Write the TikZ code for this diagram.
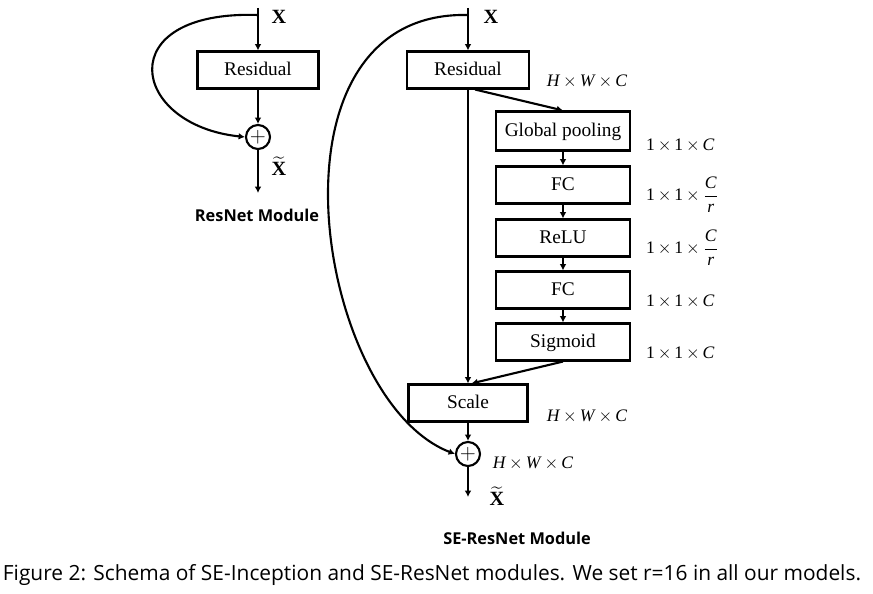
\documentclass[tikz,border=0pt]{standalone}
\usepackage{amsmath}
\usepackage{amssymb}
\usepackage{fontspec}
\setmainfont{Liberation Serif}
\newfontfamily\capfont{Open Sans}
\usetikzlibrary{arrows.meta}

\tikzset{
	layer/.style={draw, line width=1.2pt, minimum height=0.74cm, inner sep=0pt,
		text height=1.48ex, text depth=0pt, font=\fontsize{11}{13}\selectfont},
	addop/.style={circle, draw, line width=1.2pt, minimum size=0.48cm, inner sep=0pt,
		font=\fontsize{13}{13}\selectfont},
	dimlbl/.style={inner sep=1pt, font=\fontsize{10}{12}\selectfont},
	flow/.style={line width=1.2pt, -{Latex[length=3.6pt,width=3.8pt]}},
	modname/.style={inner sep=1pt, font=\capfont\bfseries\fontsize{9.3}{11}\selectfont},
	xlbl/.style={inner sep=0pt, font=\fontsize{11.5}{13}\selectfont},
}
\newcommand{\hwc}{\textit{H}$\,\times\,$\textit{W}$\,\times\,$\textit{C}}
\newcommand{\onec}{1$\,\times\,$1$\,\times\,$\textit{C}}
\newcommand{\onecr}{1$\,\times\,$1$\,\times\,\dfrac{\textit{C}}{\textit{r}}$}

\begin{document}
\begin{tikzpicture}[x=0.02cm, y=-0.02cm]
	\useasboundingbox (0,0) rectangle (873,594);

	% ResNet module
	\coordinate (inL) at (258,8);
	\coordinate (skL) at (258,15);
	\node[layer, minimum width=2.42cm] (resL) at (258,70) {Residual};
	\node[addop] (addL) at (258,137) {$+$};
	\coordinate (outL) at (258,193);
	\node[xlbl] (xL) at (279,17) {\textbf{X}};
	\node[xlbl] (xtL) at (279,166) {$\widetilde{\mathbf{X}}$};
	\node[modname] (nameL) at (257,215) {ResNet Module};

	\draw[flow] (inL) -- (resL);
	\draw[flow] (resL) -- (addL);
	\draw[flow] (addL) -- (outL);
	\draw[flow] (skL) .. controls (110,10) and (130,125) .. (addL.west);

	% SE-ResNet module
	\coordinate (inR) at (468,8);
	\coordinate (skR) at (468,15);
	\node[layer, minimum width=2.44cm] (resR) at (468,70) {Residual};
	\node[layer, minimum width=2.68cm, minimum height=0.78cm] (gp) at (563,131) {Global pooling};
	\node[layer, minimum width=2.68cm] (fcA) at (563,185) {FC};
	\node[layer, minimum width=2.68cm] (relu) at (563,238) {ReLU};
	\node[layer, minimum width=2.68cm] (fcB) at (563,290) {FC};
	\node[layer, minimum width=2.68cm] (sig) at (563,342) {Sigmoid};
	\node[layer, minimum width=2.38cm] (scale) at (468,403) {Scale};
	\node[addop] (addR) at (468,454) {$+$};
	\coordinate (outR) at (468,497);
	\node[xlbl] (xR) at (491,17) {\textbf{X}};
	\node[xlbl] (xtR) at (497,496) {$\widetilde{\mathbf{X}}$};
	\node[modname] (nameR) at (517,538) {SE-ResNet Module};

	% sizes
	\node[dimlbl] (dRes) at (587,81) {\hwc};
	\node[dimlbl, anchor=west] (dGp) at (644,145) {\onec};
	\node[dimlbl, anchor=west] (dFcA) at (644,195) {\onecr};
	\node[dimlbl, anchor=west] (dRelu) at (644,248) {\onecr};
	\node[dimlbl, anchor=west] (dFcB) at (644,301) {\onec};
	\node[dimlbl, anchor=west] (dSig) at (644,353) {\onec};
	\node[dimlbl] (dScale) at (587,416) {\hwc};
	\node[dimlbl] (dAdd) at (533,463) {\hwc};

	\draw[flow] (inR) -- (resR);
	\draw[flow] (resR) -- (scale);
	\draw[flow] (resR.-70) -- (gp.north);
	\draw[flow] (gp) -- (fcA);
	\draw[flow] (fcA) -- (relu);
	\draw[flow] (relu) -- (fcB);
	\draw[flow] (fcB) -- (sig);
	\draw[flow] (sig.south) -- (scale.80);
	\draw[flow] (scale) -- (addR);
	\draw[flow] (addR) -- (outR);
	\draw[flow] (skR) .. controls (255,10) and (315,400) .. (addR.west);

	% caption
	\node[font=\capfont\fontsize{11.9}{14}\selectfont] (cap) at (432,575)
		{Figure 2: Schema of SE-Inception and SE-ResNet modules. We set r=16 in all our models.};
\end{tikzpicture}
\end{document}
